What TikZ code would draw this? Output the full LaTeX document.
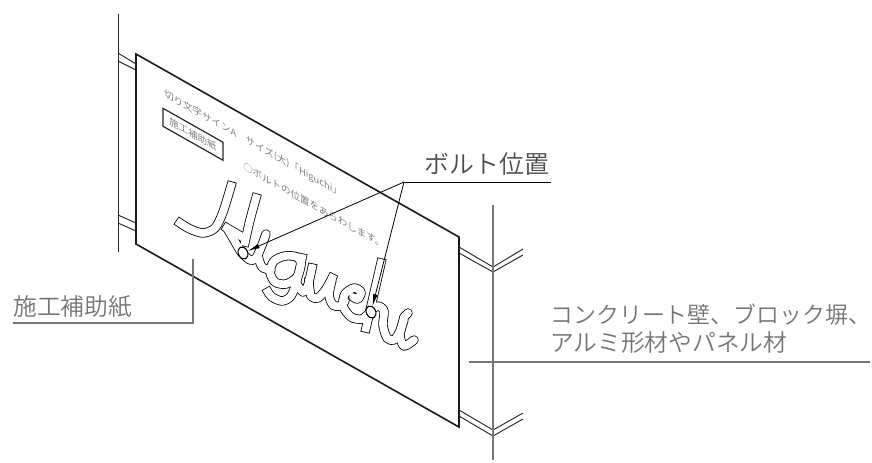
\documentclass[tikz,border=0pt]{standalone}
\usepackage{fontspec}
\setmainfont{Noto Sans CJK JP DemiLight}
\usetikzlibrary{arrows.meta,shapes.geometric}
\definecolor{leadgray}{HTML}{777777}
\definecolor{inkgray}{HTML}{757575}
\tikzset{
  edgeline/.style={color=black!90,line width=1.2pt},
  wallline/.style={color=black!85,line width=.7pt},
  leadline/.style={color=leadgray,line width=1.1pt},
  boltline/.style={color=black,line width=.6pt},
  bolthole/.style={ellipse,draw,fill=white,line width=.8pt,minimum width=9.5pt,minimum height=7pt,inner sep=0pt,rotate=-65},
  bigtext/.style={color=inkgray,font=\fontsize{17.8}{21}\selectfont,anchor=west,inner sep=0pt},
  smalltext/.style={color=inkgray,font=\fontsize{7.1}{8}\selectfont,anchor=west,inner sep=0pt},
  letterout/.style={line width=7pt,color=black,join=round},
  letterin/.style={line width=5.8pt,color=white,join=round},
}
% script lettering, drawn twice: dark first, then white on top
\newcommand{\higuchipath}[1]{
  \draw[#1,line cap=rect] plot[smooth] coordinates {(180,223) (190,229) (203,233) (215,228) (223,212) (231,186)};
  \draw[#1,line cap=rect] plot[smooth] coordinates {(256,198) (250,220) (245,242)};
  \draw[#1,line cap=rect] (227,228) -- (244,238);
  \draw[#1,line cap=round] (227,228) -- (241,252);
  \draw[#1,line cap=round] plot[smooth] coordinates {(241,252) (250,260) (256,258) (262,245) (266,234)};
  \draw[#1,line cap=round] plot[smooth] coordinates {(258,256) (262,267) (271,270)};
  \draw[#1,line cap=round] plot[smooth cycle] coordinates {(270,272) (274,261) (285,256) (297,257) (301,264) (297,277) (286,284) (275,282)};
  \draw[#1,line cap=rect] plot[smooth] coordinates {(302,258) (297,280) (291,296) (282,301) (272,297) (268,292)};
  \draw[#1,line cap=rect] plot[smooth] coordinates {(297,284) (303,292) (308,285) (312,268)};
  \draw[#1,line cap=rect] plot[smooth] coordinates {(309,282) (311,296) (318,298) (326,289) (332,278)};
  \draw[#1,line cap=round] plot[smooth] coordinates {(332,280) (329,295) (333,305) (340,306) (345,301)};
  \draw[#1,line cap=round] plot[smooth] coordinates {(370,312) (362,319) (351,317) (343,306) (345,294) (354,288) (361,292) (358,299) (353,297)};
  \draw[#1,line cap=rect] (381,263) -- (366,328);
  \draw[#1,line cap=round] plot[smooth] coordinates {(370,311) (378,306) (384,311) (383,325) (387,338) (394,340) (400,331) (404,317)};
  \draw[#1,line cap=round] plot[smooth] coordinates {(404,320) (400,335) (404,346) (414,340)};
  \draw[#1,line cap=round] (404,317) -- (408,313);
}
\begin{document}
\begin{tikzpicture}[x=.75pt,y=-.75pt]
  \useasboundingbox (0,0) rectangle (872,462);

  % walls behind the sheet
  \draw[wallline] (118,14) -- (118,252);
  \draw[wallline] (118,53) -- (136,64);
  \draw[wallline] (118,61) -- (136,70);
  \draw[wallline] (118,215) -- (136,223);
  \draw[wallline] (118,223) -- (136,231);
  \draw[wallline] (459,247) -- (493,267) -- (523,249);
  \draw[wallline] (459,253) -- (493,272) -- (523,255);
  \draw[wallline] (459,410) -- (493,430) -- (523,413);
  \draw[wallline] (459,416) -- (493,436) -- (523,419);
  \draw[leadline] (493,205) -- (493,460);

  % the sheet
  \draw[edgeline] (136,54) -- (459,237) -- (459,427) -- (136,244) -- cycle;

  \begin{scope}[shift={(136,54)},cm={1,-.566,0,1,(0,0)},transform shape]
    \node[smalltext] (titletext) at (28,24) {切り文字サインA　サイズ(大)「Higuchi」};
    \node[draw=black,line width=.9pt,color=black!85,text=inkgray,font=\fontsize{7.1}{8}\selectfont,minimum width=45pt,minimum height=13.5pt,inner sep=0pt] (sheetbox) at (57,48) {施工補助紙};
    \node[smalltext] (notetext) at (107,51) {○ボルトの位置をあらわします。};
  \end{scope}

  \higuchipath{letterout}
  \higuchipath{letterin}

  \node[bolthole] (bolta) at (243,253) {};
  \node[bolthole] (boltb) at (371,312) {};

  % labels and leaders
  \node[bigtext,color=black!70,font=\fontsize{18.7}{22}\selectfont] (boltlabel) at (424,164) {ボルト位置};
  \coordinate (boltapex) at (404,182);
  \coordinate (boltend) at (551,182);
  \draw[boltline] (boltend) -- (boltapex);
  \draw[boltline,-{Latex[length=9pt,width=3.5pt]}] (boltapex) -- (bolta);
  \draw[boltline,-{Latex[length=9pt,width=3.5pt]}] (boltapex) -- (boltb);

  \node[bigtext] (sheetlabel) at (13,307) {施工補助紙};
  \coordinate (sheetstart) at (13,323);
  \coordinate (sheetcorner) at (193,323);
  \coordinate (sheetend) at (193,259);
  \draw[leadline] (sheetstart) -- (sheetcorner) -- (sheetend);

  \node[bigtext,font=\fontsize{17.2}{21}\selectfont] (walllabela) at (550,315) {コンクリート壁、ブロック塀、};
  \node[bigtext] (walllabelb) at (550,343) {アルミ形材やパネル材};
  \coordinate (wallstart) at (469,362);
  \coordinate (wallend) at (870,362);
  \draw[leadline] (wallstart) -- (wallend);
\end{tikzpicture}
\end{document}
